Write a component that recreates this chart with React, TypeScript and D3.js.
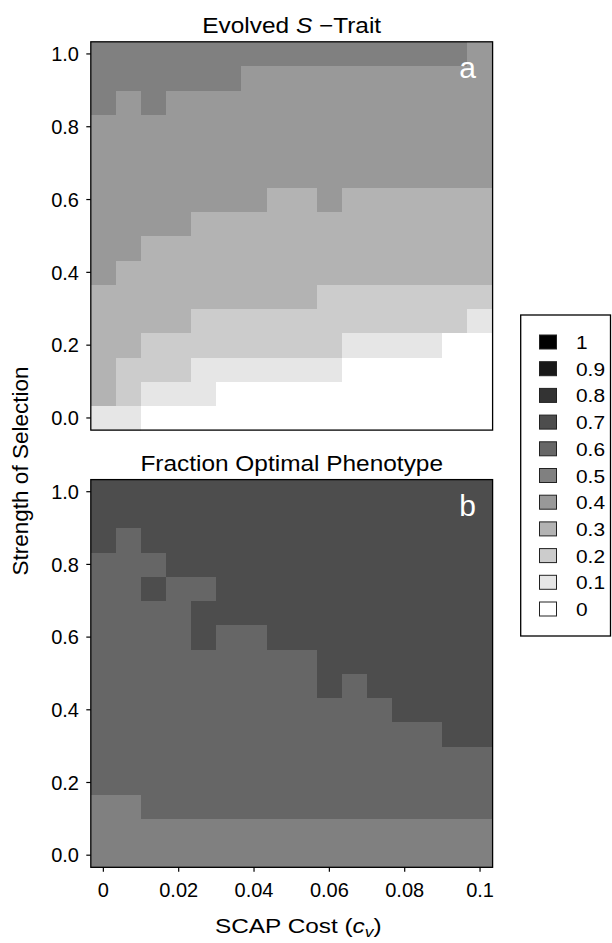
import React from "react";
import * as d3 from "d3";

// SCAP cost values (columns) and strength of selection values (rows)
const costs = d3.range(16).map((i) => i / 150);
const strengths = d3.range(16).map((i) => i / 15);

// Evolved S-trait, one row per strength (bottom row first)
const sTraitRows: number[][] = [
  [0.1, 0.1, 0, 0, 0, 0, 0, 0, 0, 0, 0, 0, 0, 0, 0, 0],
  [0.3, 0.2, 0.1, 0.1, 0.1, 0, 0, 0, 0, 0, 0, 0, 0, 0, 0, 0],
  [0.3, 0.2, 0.2, 0.2, 0.1, 0.1, 0.1, 0.1, 0.1, 0.1, 0, 0, 0, 0, 0, 0],
  [0.3, 0.3, 0.2, 0.2, 0.2, 0.2, 0.2, 0.2, 0.2, 0.2, 0.1, 0.1, 0.1, 0.1, 0, 0],
  [0.3, 0.3, 0.3, 0.3, 0.2, 0.2, 0.2, 0.2, 0.2, 0.2, 0.2, 0.2, 0.2, 0.2, 0.2, 0.1],
  [0.3, 0.3, 0.3, 0.3, 0.3, 0.3, 0.3, 0.3, 0.3, 0.2, 0.2, 0.2, 0.2, 0.2, 0.2, 0.2],
  [0.4, 0.3, 0.3, 0.3, 0.3, 0.3, 0.3, 0.3, 0.3, 0.3, 0.3, 0.3, 0.3, 0.3, 0.3, 0.3],
  [0.4, 0.4, 0.3, 0.3, 0.3, 0.3, 0.3, 0.3, 0.3, 0.3, 0.3, 0.3, 0.3, 0.3, 0.3, 0.3],
  [0.4, 0.4, 0.4, 0.4, 0.3, 0.3, 0.3, 0.3, 0.3, 0.3, 0.3, 0.3, 0.3, 0.3, 0.3, 0.3],
  [0.4, 0.4, 0.4, 0.4, 0.4, 0.4, 0.4, 0.3, 0.3, 0.4, 0.3, 0.3, 0.3, 0.3, 0.3, 0.3],
  [0.4, 0.4, 0.4, 0.4, 0.4, 0.4, 0.4, 0.4, 0.4, 0.4, 0.4, 0.4, 0.4, 0.4, 0.4, 0.4],
  [0.4, 0.4, 0.4, 0.4, 0.4, 0.4, 0.4, 0.4, 0.4, 0.4, 0.4, 0.4, 0.4, 0.4, 0.4, 0.4],
  [0.4, 0.4, 0.4, 0.4, 0.4, 0.4, 0.4, 0.4, 0.4, 0.4, 0.4, 0.4, 0.4, 0.4, 0.4, 0.4],
  [0.5, 0.4, 0.5, 0.4, 0.4, 0.4, 0.4, 0.4, 0.4, 0.4, 0.4, 0.4, 0.4, 0.4, 0.4, 0.4],
  [0.5, 0.5, 0.5, 0.5, 0.5, 0.5, 0.4, 0.4, 0.4, 0.4, 0.4, 0.4, 0.4, 0.4, 0.4, 0.4],
  [0.5, 0.5, 0.5, 0.5, 0.5, 0.5, 0.5, 0.5, 0.5, 0.5, 0.5, 0.5, 0.5, 0.5, 0.5, 0.4],
];

// Fraction of the population at the optimal phenotype (bottom row first)
const optimalRows: number[][] = [
  [0.5, 0.5, 0.5, 0.5, 0.5, 0.5, 0.5, 0.5, 0.5, 0.5, 0.5, 0.5, 0.5, 0.5, 0.5, 0.5],
  [0.5, 0.5, 0.5, 0.5, 0.5, 0.5, 0.5, 0.5, 0.5, 0.5, 0.5, 0.5, 0.5, 0.5, 0.5, 0.5],
  [0.5, 0.5, 0.6, 0.6, 0.6, 0.6, 0.6, 0.6, 0.6, 0.6, 0.6, 0.6, 0.6, 0.6, 0.6, 0.6],
  [0.6, 0.6, 0.6, 0.6, 0.6, 0.6, 0.6, 0.6, 0.6, 0.6, 0.6, 0.6, 0.6, 0.6, 0.6, 0.6],
  [0.6, 0.6, 0.6, 0.6, 0.6, 0.6, 0.6, 0.6, 0.6, 0.6, 0.6, 0.6, 0.6, 0.6, 0.6, 0.6],
  [0.6, 0.6, 0.6, 0.6, 0.6, 0.6, 0.6, 0.6, 0.6, 0.6, 0.6, 0.6, 0.6, 0.6, 0.7, 0.7],
  [0.6, 0.6, 0.6, 0.6, 0.6, 0.6, 0.6, 0.6, 0.6, 0.6, 0.6, 0.6, 0.7, 0.7, 0.7, 0.7],
  [0.6, 0.6, 0.6, 0.6, 0.6, 0.6, 0.6, 0.6, 0.6, 0.7, 0.6, 0.7, 0.7, 0.7, 0.7, 0.7],
  [0.6, 0.6, 0.6, 0.6, 0.6, 0.6, 0.6, 0.6, 0.6, 0.7, 0.7, 0.7, 0.7, 0.7, 0.7, 0.7],
  [0.6, 0.6, 0.6, 0.6, 0.7, 0.6, 0.6, 0.7, 0.7, 0.7, 0.7, 0.7, 0.7, 0.7, 0.7, 0.7],
  [0.6, 0.6, 0.6, 0.6, 0.7, 0.7, 0.7, 0.7, 0.7, 0.7, 0.7, 0.7, 0.7, 0.7, 0.7, 0.7],
  [0.6, 0.6, 0.7, 0.6, 0.6, 0.7, 0.7, 0.7, 0.7, 0.7, 0.7, 0.7, 0.7, 0.7, 0.7, 0.7],
  [0.6, 0.6, 0.6, 0.7, 0.7, 0.7, 0.7, 0.7, 0.7, 0.7, 0.7, 0.7, 0.7, 0.7, 0.7, 0.7],
  [0.7, 0.6, 0.7, 0.7, 0.7, 0.7, 0.7, 0.7, 0.7, 0.7, 0.7, 0.7, 0.7, 0.7, 0.7, 0.7],
  [0.7, 0.7, 0.7, 0.7, 0.7, 0.7, 0.7, 0.7, 0.7, 0.7, 0.7, 0.7, 0.7, 0.7, 0.7, 0.7],
  [0.7, 0.7, 0.7, 0.7, 0.7, 0.7, 0.7, 0.7, 0.7, 0.7, 0.7, 0.7, 0.7, 0.7, 0.7, 0.7],
];

const xTicks = [0, 0.02, 0.04, 0.06, 0.08, 0.1];
const xTickLabels = ["0", "0.02", "0.04", "0.06", "0.08", "0.1"];
const yTicks = [0, 0.2, 0.4, 0.6, 0.8, 1.0];
const yTickLabels = ["0.0", "0.2", "0.4", "0.6", "0.8", "1.0"];
const legendLevels = [1, 0.9, 0.8, 0.7, 0.6, 0.5, 0.4, 0.3, 0.2, 0.1, 0];
const legendLabels = ["1", "0.9", "0.8", "0.7", "0.6", "0.5", "0.4", "0.3", "0.2", "0.1", "0"];

const FONT = "'Liberation Sans', Arial, Helvetica, sans-serif";
const W = 612;
const H = 943;

// grey level: 0 -> white, 1 -> black
const fill = (v: number) => {
  const g = Math.round(255 * (1 - v));
  return d3.rgb(g, g, g).formatHex();
};

const halfX = 1 / 300;
const halfY = 1 / 30;
const x = d3.scaleLinear().domain([-halfX, 0.1 + halfX]).range([90.8, 492.6]);

type PanelProps = {
  top: number;
  bottom: number;
  rows: number[][];
  title: React.ReactNode;
  tag: string;
  showX: boolean;
};

function Panel({ top, bottom, rows, title, tag, showX }: PanelProps) {
  const y = d3.scaleLinear().domain([-halfY, 1 + halfY]).range([bottom, top]);
  const [x0, x1] = x.range();
  const cells: React.ReactNode[] = [];
  rows.forEach((row, ri) => {
    row.forEach((v, ci) => {
      const cx = costs[ci];
      const cy = strengths[ri];
      const l = x(cx - halfX);
      const r = x(cx + halfX);
      const t = y(cy + halfY);
      const b = y(cy - halfY);
      cells.push(
        <rect
          key={`${ri}-${ci}`}
          x={l}
          y={t}
          width={r - l + 0.4}
          height={b - t + 0.4}
          fill={fill(v)}
          shapeRendering="crispEdges"
        />
      );
    });
  });
  return (
    <g>
      <g>{cells}</g>
      <rect x={x0} y={top} width={x1 - x0} height={bottom - top} fill="none" stroke="#000" strokeWidth={1.3} />
      <text
        x={0}
        y={0}
        transform={`translate(${(x0 + x1) / 2},${top - 8.5}) scale(1.11,1)`}
        textAnchor="middle"
        fontFamily={FONT}
        fontSize={22}
        fill="#000"
      >
        {title}
      </text>
      <text
        x={476}
        y={top + 36}
        textAnchor="end"
        fontFamily={FONT}
        fontSize={30}
        fill="#fff"
      >
        {tag}
      </text>
      {yTicks.map((t, i) => (
        <g key={`yt${i}`}>
          <line x1={x0 - 4.5} x2={x0} y1={y(t)} y2={y(t)} stroke="#000" strokeWidth={1.2} />
          <text
            x={79}
            y={y(t)}
            dy="0.36em"
            textAnchor="end"
            fontFamily={FONT}
            fontSize={20}
            fill="#000"
          >
            {yTickLabels[i]}
          </text>
        </g>
      ))}
      {showX &&
        xTicks.map((t, i) => (
          <g key={`xt${i}`}>
            <line x1={x(t)} x2={x(t)} y1={bottom} y2={bottom + 4.5} stroke="#000" strokeWidth={1.2} />
            <text
              x={x(t)}
              y={bottom + 29.5}
              textAnchor="middle"
              fontFamily={FONT}
              fontSize={20}
              fill="#000"
            >
              {xTickLabels[i]}
            </text>
          </g>
        ))}
    </g>
  );
}

function Legend() {
  const left = 520.7;
  const top = 315;
  const right = 610.5;
  const bottom = 636;
  const ly = d3
    .scalePoint<number>()
    .domain(legendLevels)
    .range([342, 342 + 26.7 * (legendLevels.length - 1)]);
  return (
    <g>
      <rect x={left} y={top} width={right - left} height={bottom - top} fill="#fff" stroke="#000" strokeWidth={1.3} />
      {legendLevels.map((v, i) => (
        <g key={`lg${i}`}>
          <rect
            x={539.5}
            y={(ly(v) as number) - 7}
            width={17}
            height={14}
            fill={fill(v)}
            stroke="#222"
            strokeWidth={1}
          />
          <text
            x={0}
            y={0}
            transform={`translate(576,${(ly(v) as number) + 7}) scale(1.1,1)`}
            fontFamily={FONT}
            fontSize={19}
            fill="#000"
          >
            {legendLabels[i]}
          </text>
        </g>
      ))}
    </g>
  );
}

export default function App() {
  const topA = 41.8;
  const botA = 430.1;
  const topB = 479.6;
  const botB = 867.3;
  return (
    <div style={{ position: "absolute", left: 0, top: 0, width: W, height: H, background: "#fff" }}>
      <svg width={W} height={H} viewBox={`0 0 ${W} ${H}`} style={{ display: "block" }}>
        <rect width={W} height={H} fill="#fff" />
        <Panel
          top={topA}
          bottom={botA}
          rows={sTraitRows}
          tag="a"
          showX={false}
          title={
            <>
              <tspan>Evolved </tspan>
              <tspan fontStyle="italic">S</tspan>
              <tspan> −Trait</tspan>
            </>
          }
        />
        <Panel
          top={topB}
          bottom={botB}
          rows={optimalRows}
          tag="b"
          showX={true}
          title={<tspan>Fraction Optimal Phenotype</tspan>}
        />
        <Legend />
        <text
          x={0}
          y={0}
          transform={`translate(215,933.3) scale(1.16,1)`}
          fontFamily={FONT}
          fontSize={21}
          fill="#000"
        >
          <tspan>SCAP Cost (</tspan>
          <tspan fontStyle="italic">c</tspan>
          <tspan fontStyle="italic" fontSize={15} dy={4}>v</tspan>
          <tspan dy={-4}>)</tspan>
        </text>
        <text
          x={0}
          y={0}
          transform={`translate(28,471) rotate(-90)`}
          textAnchor="middle"
          fontFamily={FONT}
          fontSize={22.5}
          fill="#000"
        >
          Strength of Selection
        </text>
      </svg>
    </div>
  );
}
